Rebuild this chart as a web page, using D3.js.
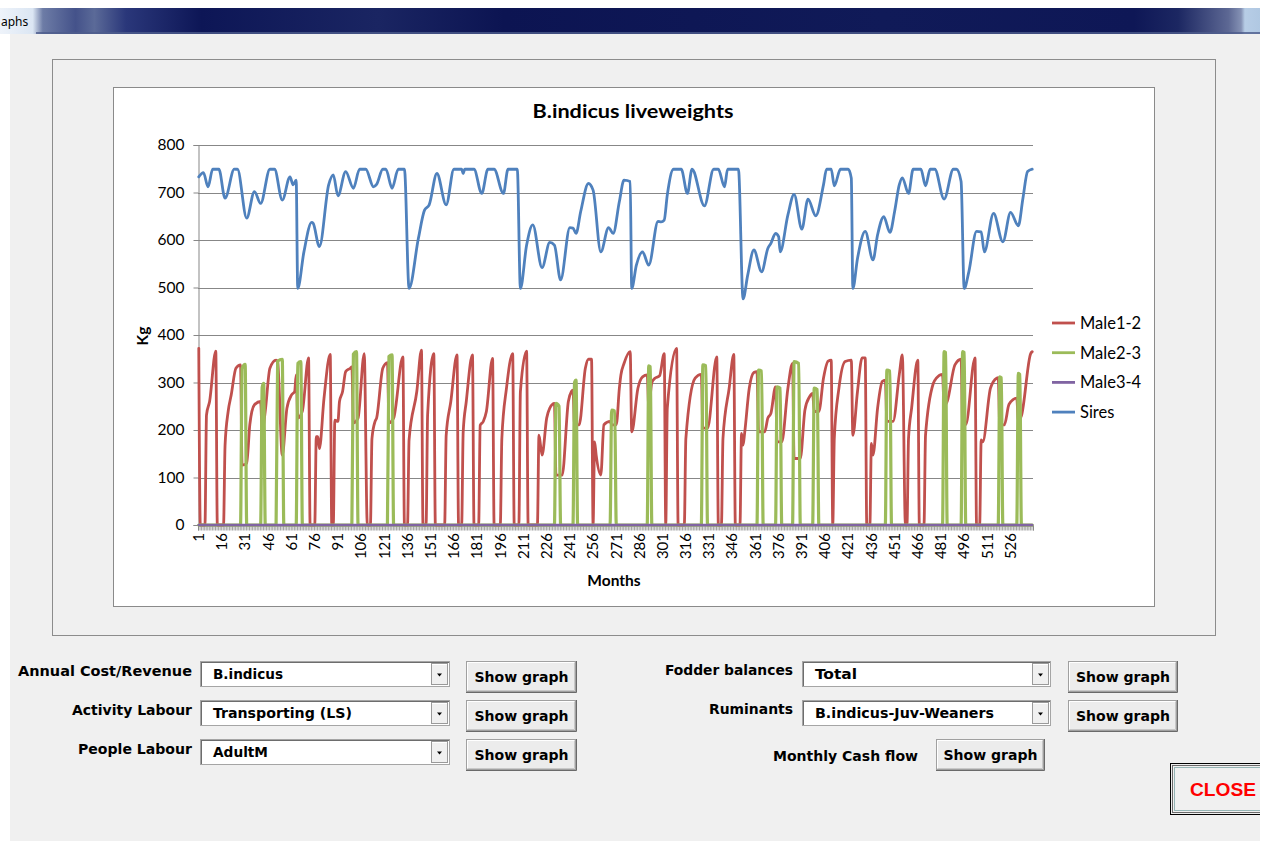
<!DOCTYPE html>
<html><head><meta charset="utf-8">
<script src="https://cdn.jsdelivr.net/npm/d3@7"></script>
<style>
html,body{margin:0;padding:0;background:#fff;overflow:hidden}
svg{display:block}
</style></head><body>
<svg id="c" width="1264" height="841"></svg>
<script>
// ---------- DATA ----------
const chartTitle = "B.indicus liveweights";
const xTitle = "Months";
const yTitle = "Kg";
const xTickLabels = [1,16,31,46,61,76,91,106,121,136,151,166,181,196,211,226,241,256,271,286,301,316,331,346,361,376,391,406,421,436,451,466,481,496,511,526];
const yTickValues = [0,100,200,300,400,500,600,700,800];
const monthCount = 540;
const seriesNames = ["Male1-2","Male2-3","Male3-4","Sires"];
const seriesColors = ["#C0504D","#9BBB59","#8064A2","#4F81BD"];

// [month, kg] vertices
const male12 = [[1,372],[2,0],[5,0],[6,232],[8,260],[12,366],[13,0],[17,0],[18,168],[20,239],[22,274],[25,330],[28,337],[29,126],[32,130],[34,211],[37,253],[41,260],[42,196],[44,240],[47,330],[51,347],[52,344],[55,147],[58,246],[61,274],[63,281],[64,316],[65,225],[68,240],[72,352],[73,0],[76,0],[77,186],[78,186],[79,161],[82,267],[86,359],[87,0],[88,0],[89,221],[91,218],[92,260],[94,281],[96,323],[99,330],[100,333],[101,215],[104,225],[108,361],[110,0],[112,0],[113,182],[115,218],[116,225],[120,330],[123,342],[124,215],[127,225],[133,354],[134,0],[136,0],[137,179],[142,281],[145,368],[146,0],[148,0],[149,232],[153,361],[154,0],[160,0],[161,189],[164,260],[168,358],[169,0],[171,0],[172,196],[174,260],[178,358],[179,0],[182,0],[183,210],[185,218],[187,239],[191,351],[192,0],[196,0],[197,182],[200,288],[204,361],[205,0],[208,0],[209,281],[213,366],[214,0],[220,0],[221,189],[223,147],[226,225],[228,246],[231,256],[232,105],[236,105],[240,260],[242,281],[243,284],[244,211],[247,211],[251,330],[253,349],[255,349],[256,0],[257,175],[258,147],[261,105],[263,211],[267,218],[268,211],[271,211],[273,288],[274,316],[276,340],[280,365],[281,196],[285,288],[288,312],[291,316],[292,250],[294,300],[296,309],[299,314],[302,361],[303,0],[304,246],[310,372],[311,0],[315,0],[316,182],[322,309],[326,317],[327,204],[330,204],[336,354],[337,0],[339,0],[340,182],[344,288],[347,359],[348,0],[351,0],[352,193],[353,168],[354,193],[357,288],[360,321],[362,323],[363,196],[367,196],[369,225],[371,235],[374,291],[375,175],[378,175],[382,288],[385,340],[386,140],[390,140],[393,242],[396,270],[398,277],[399,239],[402,239],[405,309],[408,345],[410,347],[411,0],[412,182],[415,288],[419,344],[423,347],[424,189],[427,281],[430,352],[432,352],[433,0],[435,0],[436,172],[437,147],[440,246],[443,302],[445,305],[446,218],[450,218],[454,316],[456,358],[458,0],[459,0],[460,182],[462,246],[466,347],[467,0],[470,0],[471,189],[476,298],[478,309],[482,317],[483,250],[485,260],[490,337],[494,349],[495,211],[497,211],[503,352],[504,0],[506,0],[507,179],[508,175],[513,288],[517,309],[518,310],[519,211],[522,211],[525,254],[530,267],[531,220],[533,230],[539,361],[540,365]];

const male23 = [[1,0],[28,0],[29,330],[31,338],[32,0],[41,0],[42,290],[43,298],[44,0],[51,0],[52,345],[55,349],[56,0],[64,0],[65,340],[67,344],[68,0],[100,0],[101,360],[103,365],[104,0],[123,0],[124,355],[126,358],[127,0],[231,0],[232,256],[234,250],[235,0],[243,0],[244,300],[245,305],[246,0],[267,0],[268,242],[270,240],[271,0],[291,0],[292,335],[293,333],[294,0],[326,0],[327,337],[329,335],[330,0],[362,0],[363,326],[365,324],[366,0],[374,0],[375,291],[377,288],[378,0],[385,0],[386,344],[389,340],[390,0],[398,0],[399,288],[401,285],[402,0],[445,0],[446,326],[448,324],[449,0],[482,0],[483,365],[484,363],[485,0],[494,0],[495,365],[496,363],[497,0],[518,0],[519,312],[520,310],[521,0],[530,0],[531,319],[532,317],[533,0],[540,0]];

const male34 = [[1,0],[540,0]];

const sires = [[1,733],[4,742],[7,712],[10,749],[14,749],[18,688],[24,749],[26,749],[32,646],[37,702],[41,677],[47,749],[50,749],[55,684],[60,733],[62,716],[64,726],[65,498],[69,575],[74,637],[75,635],[79,586],[85,716],[88,737],[91,693],[96,744],[101,709],[105,749],[109,749],[114,712],[116,717],[120,749],[122,749],[126,709],[130,749],[134,749],[137,498],[143,603],[147,663],[150,674],[155,740],[161,674],[166,749],[171,749],[172,740],[173,749],[179,749],[184,698],[188,749],[192,749],[198,698],[201,749],[207,749],[209,498],[213,589],[217,632],[223,542],[228,595],[231,589],[235,516],[241,626],[243,625],[245,614],[248,660],[253,719],[256,705],[261,575],[266,626],[269,614],[273,681],[276,726],[280,723],[281,498],[284,547],[288,575],[292,547],[298,639],[300,638],[302,642],[304,695],[308,749],[313,749],[317,698],[320,749],[328,672],[334,749],[337,749],[341,712],[343,749],[350,749],[353,476],[356,526],[360,579],[365,533],[369,582],[371,593],[374,614],[376,607],[377,575],[382,653],[386,696],[391,623],[395,686],[400,651],[405,716],[407,749],[410,749],[412,714],[416,749],[421,749],[423,730],[424,498],[427,561],[432,618],[437,558],[440,611],[444,649],[448,616],[451,660],[454,716],[456,731],[460,698],[463,749],[468,749],[471,714],[474,749],[477,749],[483,686],[489,749],[491,749],[494,723],[496,498],[499,533],[504,618],[507,617],[509,575],[515,656],[521,596],[526,658],[531,630],[534,688],[537,744],[540,749]];

const seriesData = [male12, male23, male34, sires];

// form controls
const leftRows = [
  {label:"Annual Cost/Revenue", value:"B.indicus"},
  {label:"Activity Labour", value:"Transporting (LS)"},
  {label:"People Labour", value:"AdultM"}
];
const rightRows = [
  {label:"Fodder balances", value:"Total"},
  {label:"Ruminants", value:"B.indicus-Juv-Weaners"}
];

// ---------- DRAW ----------
const svg = d3.select("#c");
const formFont = "'DejaVu Sans Condensed','DejaVu Sans',sans-serif";
const chartFont = "Lato, 'Open Sans', sans-serif";
const defs = svg.append("defs");

// window background
svg.append("rect").attr("x",10).attr("y",34).attr("width",1250).attr("height",807).attr("fill","#f0f0f0");

// title bar
const tg = defs.append("linearGradient").attr("id","tb").attr("x1",0).attr("x2",1).attr("y1",0).attr("y2",0);
[[0,"#eef3fa"],[0.026,"#dbe6f3"],[0.034,"#6d7ca6"],[0.06,"#44528a"],[0.075,"#5b6a98"],[0.1,"#2a377a"],[0.16,"#0d1656"],[0.3,"#1a2562"],[0.4,"#0c1452"],[0.7,"#101a58"],[0.9,"#0e1756"],[0.935,"#1c2762"],[0.975,"#5d6894"],[0.985,"#8491b4"],[0.988,"#b7cde6"],[1,"#b0c8e2"]]
  .forEach(s=>tg.append("stop").attr("offset",s[0]).attr("stop-color",s[1]));
svg.append("rect").attr("x",0).attr("y",8).attr("width",1260).attr("height",26).attr("fill","url(#tb)");
svg.append("rect").attr("x",36).attr("y",32).attr("width",1224).attr("height",2).attr("fill","#4e5c8c").attr("opacity",0.8);
svg.append("text").attr("x",1).attr("y",26).attr("font-family","'Noto Sans',sans-serif").attr("font-size",12).attr("fill","#000").text("aphs");

// chart frame
svg.append("rect").attr("x",52.5).attr("y",59.5).attr("width",1163).attr("height",576).attr("fill","#f0f0f0").attr("stroke","#8c8c8c");
svg.append("rect").attr("x",113.5).attr("y",87.5).attr("width",1041).attr("height",519).attr("fill","#fff").attr("stroke","#8a8a8a");

// scales
const x = d3.scaleLinear().domain([0.5, monthCount+0.5]).range([198,1033]);
const y = d3.scaleLinear().domain([0,800]).range([525,145]);

const plot = svg.append("g");
// gridlines
plot.append("g").selectAll("line").data(yTickValues.filter(v=>v>0)).join("line")
  .attr("x1",198).attr("x2",1033).attr("y1",d=>Math.round(y(d))+0.5).attr("y2",d=>Math.round(y(d))+0.5)
  .attr("stroke","#878787").attr("stroke-width",1);

// y axis
const yAx = plot.append("g").attr("transform","translate(198.5,0)")
  .call(d3.axisLeft(y).tickValues(yTickValues).tickSize(5).tickPadding(9).tickFormat(d3.format("d")));
yAx.select(".domain").attr("stroke","#878787");
yAx.selectAll(".tick line").attr("stroke","#878787");
yAx.selectAll(".tick text").attr("font-family",chartFont).attr("font-size",15.5).attr("fill","#000");

// x axis minor ticks (one per month)
const xAx = plot.append("g").attr("transform","translate(0,525.5)")
  .call(d3.axisBottom(x).tickValues(d3.range(0.5, monthCount+1, 1)).tickSize(5).tickFormat(""));
xAx.select(".domain").attr("stroke","#878787");
xAx.selectAll(".tick line").attr("stroke","#8a8a8a").attr("stroke-width",0.8);

// x labels
plot.append("g").selectAll("text").data(xTickLabels).join("text")
  .attr("transform",d=>`translate(${x(d)},533) rotate(-90)`)
  .attr("text-anchor","end").attr("dy","0.35em")
  .attr("font-family",chartFont).attr("font-size",15).attr("fill","#000").text(d=>d);

// series lines
const line = d3.line().x(d=>x(d[0])).y(d=>y(d[1])).curve(d3.curveMonotoneX);
const widths = [2.8,3.2,2.6,2.8];
plot.append("g").selectAll("path").data(seriesData).join("path")
  .attr("d",line).attr("fill","none")
  .attr("stroke",(d,i)=>seriesColors[i]).attr("stroke-width",(d,i)=>widths[i])
  .attr("stroke-linejoin","round").attr("stroke-linecap","round");

// titles
svg.append("text").attr("x",633).attr("y",118).attr("text-anchor","middle")
  .attr("font-family",chartFont).attr("font-weight","bold").attr("font-size",18.5)
  .attr("textLength",201).attr("lengthAdjust","spacingAndGlyphs").text(chartTitle);
svg.append("text").attr("x",614).attr("y",586).attr("text-anchor","middle")
  .attr("font-family",chartFont).attr("font-weight","bold").attr("font-size",15.5).text(xTitle);
svg.append("text").attr("transform","translate(148,336) rotate(-90)").attr("text-anchor","middle")
  .attr("font-family",chartFont).attr("font-weight","bold").attr("font-size",15.5).text(yTitle);

// legend
const lg = svg.append("g").selectAll("g").data(seriesNames).join("g")
  .attr("transform",(d,i)=>`translate(1052,${323+i*29.7})`);
lg.append("line").attr("x1",0).attr("x2",23).attr("stroke",(d,i)=>seriesColors[i]).attr("stroke-width",2.8);
lg.append("text").attr("x",28).attr("dy","0.36em").attr("font-family",chartFont).attr("font-size",16.5).text(d=>d);

// ---------- FORM CONTROLS ----------
function combo(g, x0, y0, w, h, val, tl){
  g.append("rect").attr("x",x0+0.5).attr("y",y0+0.5).attr("width",w).attr("height",h).attr("fill","#fff").attr("stroke","#a5a5a5");
  g.append("line").attr("x1",x0+1).attr("x2",x0+w).attr("y1",y0+1.5).attr("y2",y0+1.5).attr("stroke","#6d6d6d");
  g.append("line").attr("x1",x0+1.5).attr("x2",x0+1.5).attr("y1",y0+1).attr("y2",y0+h).attr("stroke","#6d6d6d");
  const bx = x0+w-18;
  g.append("rect").attr("x",bx+0.5).attr("y",y0+2.5).attr("width",16).attr("height",h-4).attr("fill","#f0f0f0").attr("stroke","#9a9a9a");
  g.append("line").attr("x1",bx+1).attr("x2",bx+16).attr("y1",y0+3.5).attr("y2",y0+3.5).attr("stroke","#fff");
  g.append("path").attr("d",`M${bx+6},${y0+h/2} h5 l-2.5,3 z`).attr("fill","#000");
  g.append("text").attr("x",x0+13).attr("y",y0+h/2+5.5).attr("font-family",formFont).attr("font-weight","bold").attr("font-size",14.5)
    .attr("textLength",tl).attr("lengthAdjust","spacingAndGlyphs").text(val);
}
function button(g, x0, y0, w, h){
  g.append("rect").attr("x",x0+0.5).attr("y",y0+0.5).attr("width",w).attr("height",h).attr("fill","#ececec").attr("stroke","#a0a0a0");
  g.append("path").attr("d",`M${x0+1.5},${y0+h-0.5} V${y0+1.5} H${x0+w-0.5}`).attr("fill","none").attr("stroke","#fff");
  g.append("path").attr("d",`M${x0+1.5},${y0+h-0.5} H${x0+w-0.5} V${y0+1.5}`).attr("fill","none").attr("stroke","#c8c8c8");
  g.append("path").attr("d",`M${x0},${y0+h+1.5} H${x0+w+1.5} V${y0}`).attr("fill","none").attr("stroke","#6a6a6a");
  g.append("text").attr("x",x0+w/2+1).attr("y",y0+h/2+5.5).attr("text-anchor","middle").attr("font-family",formFont)
    .attr("font-weight","bold").attr("font-size",14.5).attr("textLength",94).attr("lengthAdjust","spacingAndGlyphs").text("Show graph");
}
const form = svg.append("g");
const leftLabelW = [174,120,114], leftValW = [70,139,55];
leftRows.forEach((r,i)=>{
  const yy = 661 + i*39;
  form.append("text").attr("x",192).attr("y",yy+15).attr("text-anchor","end").attr("font-family",formFont)
    .attr("font-weight","bold").attr("font-size",14.5).attr("textLength",leftLabelW[i]).attr("lengthAdjust","spacingAndGlyphs").text(r.label);
  combo(form, 200, yy, 249, 25, r.value, leftValW[i]);
  button(form, 466, yy, 109, 30);
});
const rightLabelW = [128,84], rightValW = [42,179];
rightRows.forEach((r,i)=>{
  const yy = 661 + i*39;
  form.append("text").attr("x",793).attr("y",yy+14).attr("text-anchor","end").attr("font-family",formFont)
    .attr("font-weight","bold").attr("font-size",14.5).attr("textLength",rightLabelW[i]).attr("lengthAdjust","spacingAndGlyphs").text(r.label);
  combo(form, 802, yy, 248, 25, r.value, rightValW[i]);
  button(form, 1068, yy, 108, 30);
});
form.append("text").attr("x",918).attr("y",761).attr("text-anchor","end").attr("font-family",formFont)
  .attr("font-weight","bold").attr("font-size",14.5).attr("textLength",145).attr("lengthAdjust","spacingAndGlyphs").text("Monthly Cash flow");
button(form, 936, 739, 107, 30);

// CLOSE button
form.append("rect").attr("x",1170.5).attr("y",763.5).attr("width",95).attr("height",51).attr("fill","#f0f0f0").attr("stroke","#000").attr("stroke-width",1);
form.append("rect").attr("x",1172.5).attr("y",765.5).attr("width",95).attr("height",47).attr("fill","none").attr("stroke","#6a6a6a");
form.append("rect").attr("x",1174.5).attr("y",767.5).attr("width",95).attr("height",43).attr("fill","none").attr("stroke","#3c7a7a").attr("stroke-dasharray","1,1");
form.append("text").attr("x",1190).attr("y",796).attr("font-family","'Liberation Sans',Arial,sans-serif").attr("font-weight","bold")
  .attr("font-size",18).attr("fill","#ff0000").attr("textLength",66).attr("lengthAdjust","spacingAndGlyphs").text("CLOSE");
svg.append("rect").attr("x",1260).attr("y",0).attr("width",4).attr("height",841).attr("fill","#fff");
</script>
</body></html>
